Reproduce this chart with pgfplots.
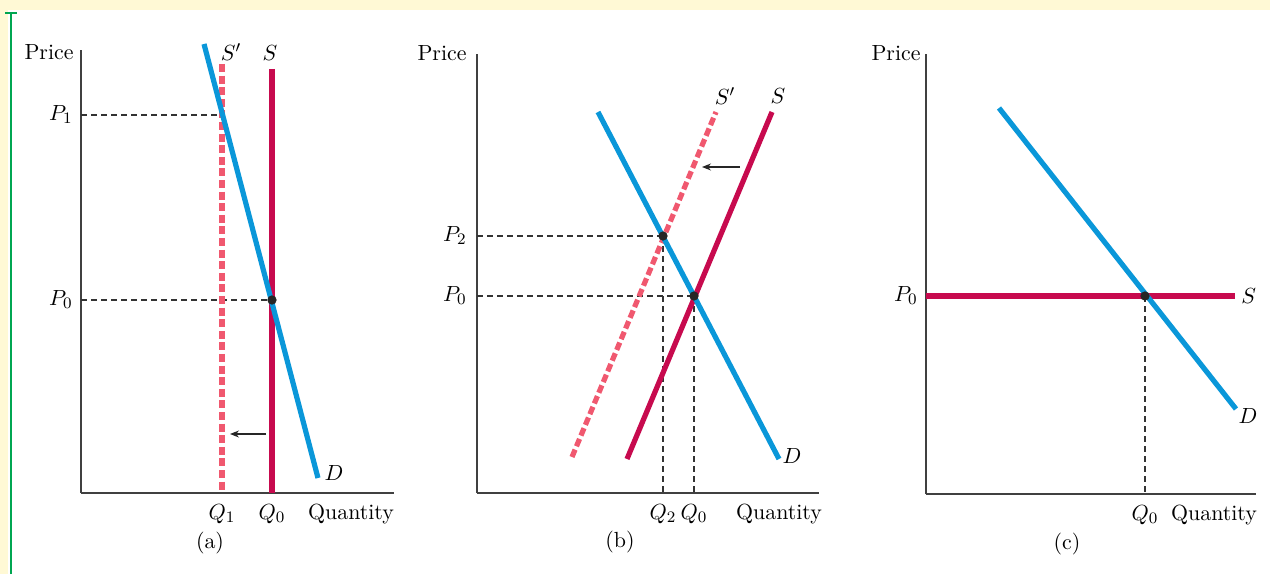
\documentclass[11pt,border=0pt]{standalone}
\usepackage{pgfplots}
\pgfplotsset{compat=1.18}
\usetikzlibrary{arrows.meta}

\definecolor{demand}{HTML}{0A97D9}
\definecolor{supply}{HTML}{C70A4E}
\definecolor{supplyb}{HTML}{F0586F}
\definecolor{guide}{HTML}{333333}
\definecolor{band}{HTML}{FFF9D5}
\definecolor{rulegreen}{HTML}{00A651}

% one data unit = one pixel of the 1270x574 reference (y counted upwards)
\pgfplotsset{
  panel/.style={
    x=0.5pt, y=0.5pt,
    anchor=south west,
    axis x line=bottom, axis y line=left,
    axis line style={-, draw=black!75, line width=0.8pt},
    major tick length=0pt,
    clip=false,
    typeset ticklabels with strut,
    xticklabel style={inner sep=3.5pt},
    yticklabel style={inner sep=4pt},
  },
  dem/.style={demand, line width=2.6pt, no marks},
  sup/.style={supply, line width=2.6pt, no marks},
  supnew/.style={supplyb, line width=2.6pt, dash pattern=on 4pt off 1.8pt, no marks},
  guideline/.style={guide, line width=0.55pt, dash pattern=on 3pt off 2pt, no marks},
  eq/.style={only marks, mark=*, mark size=2.1pt, black!85},
  shiftarrow/.style={black!85, line width=0.6pt, -{Stealth[length=4.5pt,width=3.5pt]}, no marks},
}

\begin{document}
\begin{tikzpicture}[x=0.5pt,y=0.5pt]
\useasboundingbox (0,0) rectangle (1270,574);
\fill[band] (0,564) rectangle (1270,574);
\fill[band] (0,0) rectangle (8,564);
\draw[rulegreen, line width=1.2pt] (10.7,0) -- (10.7,561);
\draw[rulegreen, line width=1.2pt] (5,561) -- (17,561);

% (a) vertical supply
\begin{axis}[panel, at={(81,81)},
    xmin=81, xmax=394, ymin=81, ymax=524,
    xtick={222,272,351}, xticklabels={$Q_1$,$Q_0$,Quantity},
    ytick={459,274}, yticklabels={$P_1$,$P_0$}]
  \addplot[guideline] coordinates {(81,459) (222,459)};
  \addplot[guideline] coordinates {(81,274) (272,274)};
  \addplot[supnew] coordinates {(222,510) (222,81)};
  \addplot[sup] coordinates {(272,505) (272,81)};
  \addplot[dem] coordinates {(204,530) (318,96)};
  \addplot[eq] coordinates {(272,274)};
  \addplot[shiftarrow] coordinates {(266,140) (230,140)};
  \node[anchor=east, inner sep=0pt] at (axis cs:74,522) {Price};
  \node at (axis cs:231,522) {$S'$};
  \node at (axis cs:270,521) {$S$};
  \node at (axis cs:334,101) {$D$};
  \node at (axis cs:210,31) {(a)};
\end{axis}

% (b) upward sloping supply
\begin{axis}[panel, at={(477,81)},
    xmin=477, xmax=819, ymin=81, ymax=520,
    xtick={663,694,779}, xticklabels={$Q_2$,$Q_0$,Quantity},
    ytick={338,278}, yticklabels={$P_2$,$P_0$},
    yticklabel style={inner sep=5pt}]
  \addplot[guideline] coordinates {(477,338) (663,338)};
  \addplot[guideline] coordinates {(477,278) (694,278)};
  \addplot[guideline] coordinates {(663,338) (663,81)};
  \addplot[guideline] coordinates {(694,278) (694,81)};
  \addplot[supnew] coordinates {(572,117) (716,462)};
  \addplot[sup] coordinates {(627,115) (772,462)};
  \addplot[dem] coordinates {(598,462) (779,115)};
  \addplot[eq] coordinates {(663,338) (694,278)};
  \addplot[shiftarrow] coordinates {(740,407) (702,407)};
  \node[anchor=east, inner sep=0pt] at (axis cs:467,521) {Price};
  \node at (axis cs:725,478) {$S'$};
  \node at (axis cs:778,478) {$S$};
  \node at (axis cs:792,118) {$D$};
  \node at (axis cs:620,32) {(b)};
\end{axis}

% (c) horizontal supply
\begin{axis}[panel, at={(926,80)},
    xmin=926, xmax=1256, ymin=80, ymax=520,
    xtick={1145,1214}, xticklabels={$Q_0$,Quantity},
    ytick={278}, yticklabels={$P_0$}]
  \addplot[guideline] coordinates {(1145,278) (1145,80)};
  \addplot[sup] coordinates {(926,278) (1235,278)};
  \addplot[dem] coordinates {(999,466) (1236,165)};
  \addplot[eq] coordinates {(1145,278)};
  \node[anchor=east, inner sep=0pt] at (axis cs:921,521) {Price};
  \node[anchor=west, inner sep=0pt] at (axis cs:1241,278) {$S$};
  \node at (axis cs:1248,158) {$D$};
  \node at (axis cs:1067,30) {(c)};
\end{axis}
\end{tikzpicture}
\end{document}
